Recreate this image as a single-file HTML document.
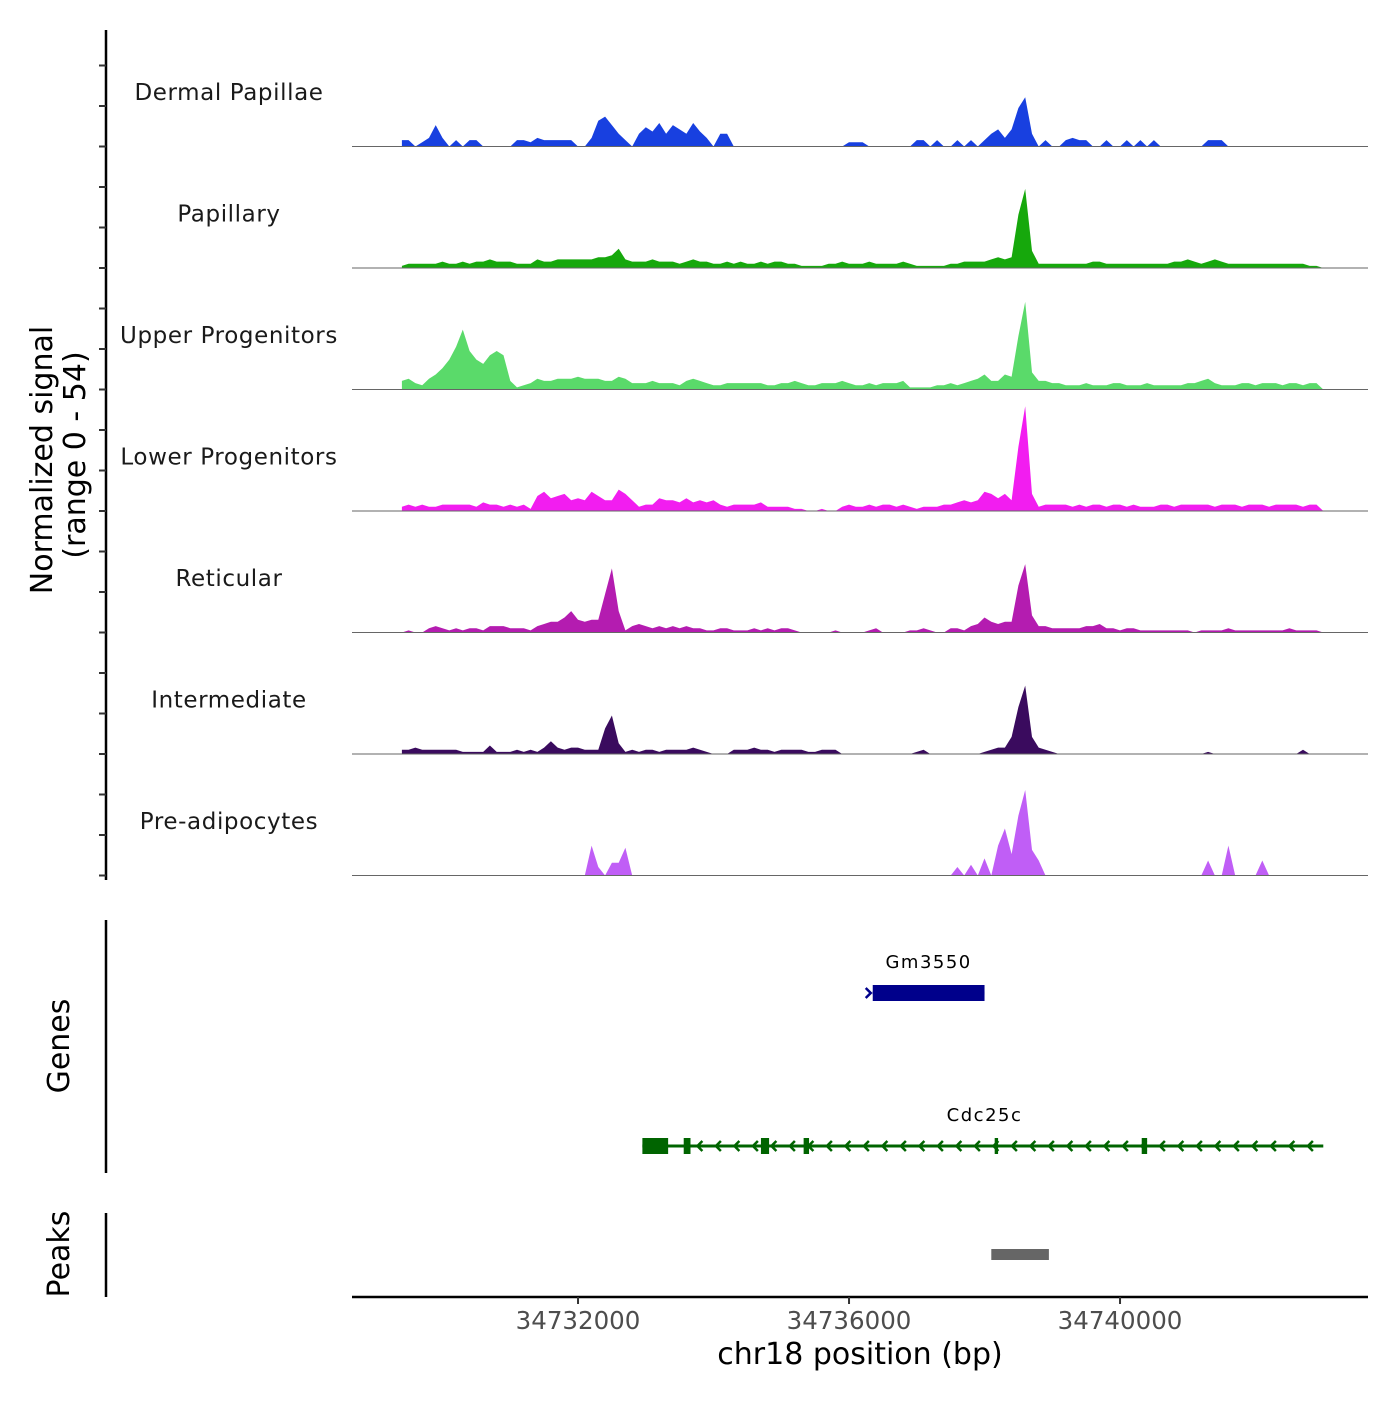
<!DOCTYPE html>
<html><head><meta charset="utf-8"><style>
html,body{margin:0;padding:0;background:#fff;}
svg text{font-family:"DejaVu Sans","Liberation Sans",sans-serif;}
</style></head><body>
<svg id="chart" width="1400" height="1400" xmlns="http://www.w3.org/2000/svg"></svg>
<script>
const regionStart = 34728664, regionEnd = 34743660;
const binStart = 34729400, binSize = 100;
const trackNames = ["Dermal Papillae","Papillary","Upper Progenitors","Lower Progenitors","Reticular","Intermediate","Pre-adipocytes"];
const trackColors = ["#1840e0","#16a80c","#5ada6a","#f21df0","#b41cb0","#3a0b5e","#c05ef6"];
const dermalPapillae = [3,3,0,2,4,10,4,0,3,0, 3,3,0,0,0,0,0,3,3,2, 4,3,3,3,3,3,0,0,4,12, 14,10,6,3,0,6,9,7,11,6, 10,8,6,11,7,4,0,6,6,0, 0,0,0,0,0,0,0,0,0,0, 0,0,0,0,0,0,2,2,2,0, 0,0,0,0,0,0,3,3,0,3, 0,0,3,0,3,0,3,6,8,4, 8,18,23,6,0,3,0,0,3,4, 3,3,0,0,3,0,0,3,0,3, 0,3,0,0,0,0,0,0,0,3, 3,3,0,0,0,0,0,0,0,0, 0,0,0,0,0,0];
const papillary = [1,2,2,2,2,2,3,2,2,3, 2,3,3,4,3,3,3,2,2,2, 4,3,3,4,4,4,4,4,4,5, 5,6,9,4,3,3,3,4,3,3, 3,2,3,4,3,3,2,2,3,2, 3,2,2,3,2,3,3,2,2,1, 1,1,1,2,2,3,2,2,2,3, 2,2,2,2,3,2,1,1,1,1, 1,2,2,3,3,3,3,4,5,4, 5,25,37,8,2,2,2,2,2,2, 2,2,3,3,2,2,2,2,2,2, 2,2,2,2,3,3,4,3,2,3, 4,3,2,2,2,2,2,2,2,2, 2,2,2,2,1,1];
const upperProgenitors = [4,5,3,2,5,7,10,14,20,28, 18,14,12,16,18,16,4,1,2,3, 5,4,4,5,5,5,6,5,5,5, 4,4,6,5,3,3,3,4,3,3, 3,2,4,5,4,3,2,2,3,3, 3,3,3,3,2,2,3,3,4,3, 2,2,3,3,3,4,3,2,2,3, 2,3,3,3,4,1,1,1,1,2, 2,3,2,3,4,5,7,4,4,7, 6,25,41,8,4,4,3,3,2,2, 2,3,2,2,2,3,3,2,2,2, 3,2,2,2,2,2,3,3,4,5, 3,2,2,2,3,3,2,3,3,3, 2,3,3,2,3,3];
const lowerProgenitors = [2,3,2,3,2,2,3,3,3,3, 3,2,4,3,3,2,3,2,3,1, 7,9,6,7,8,5,6,5,9,7, 5,5,10,8,5,2,3,3,6,5, 5,4,6,4,5,4,5,3,2,3, 3,3,3,4,2,2,2,2,1,1, 0,0,1,0,0,2,3,2,2,3, 2,3,3,2,3,2,1,2,2,2, 3,3,4,5,4,5,9,8,6,8, 5,30,49,8,2,3,3,3,3,2, 3,2,3,3,2,3,3,2,3,2, 2,2,3,3,2,3,3,3,3,3, 2,3,3,3,2,3,3,3,2,3, 3,3,3,2,3,3];
const reticular = [0,1,0,0,2,3,2,1,2,1, 2,2,1,3,3,3,2,2,2,1, 3,4,5,5,7,10,6,5,6,6, 18,30,10,1,3,4,3,2,3,2, 3,2,3,2,2,1,1,2,2,1, 1,1,2,1,2,1,2,2,1,0, 0,0,0,0,1,0,0,0,0,1, 2,0,0,0,0,1,1,2,1,0, 0,2,2,1,3,4,7,5,4,5, 5,22,32,8,3,3,2,2,2,2, 2,3,3,4,2,2,1,2,2,1, 1,1,1,1,1,1,1,0,1,1, 1,1,2,1,1,1,1,1,1,1, 1,2,1,1,1,1];
const intermediate = [2,2,3,2,2,2,2,2,2,1, 1,1,1,4,1,1,1,2,1,2, 1,3,6,3,2,3,3,2,2,2, 12,18,5,1,2,1,2,2,1,2, 2,2,2,3,2,1,0,0,0,2, 2,2,3,2,2,1,2,2,2,2, 1,1,2,2,2,0,0,0,0,0, 0,0,0,0,0,0,1,2,0,0, 0,0,0,0,0,0,1,2,3,3, 8,22,32,8,3,2,1,0,0,0, 0,0,0,0,0,0,0,0,0,0, 0,0,0,0,0,0,0,0,0,1, 0,0,0,0,0,0,0,0,0,0, 0,0,0,2,0,0];
const preAdipocytes = [0,0,0,0,0,0,0,0,0,0, 0,0,0,0,0,0,0,0,0,0, 0,0,0,0,0,0,0,0,14,4, 0,6,6,13,0,0,0,0,0,0, 0,0,0,0,0,0,0,0,0,0, 0,0,0,0,0,0,0,0,0,0, 0,0,0,0,0,0,0,0,0,0, 0,0,0,0,0,0,0,0,0,0, 0,0,4,0,5,0,8,0,14,22, 10,28,40,12,7,0,0,0,0,0, 0,0,0,0,0,0,0,0,0,0, 0,0,0,0,0,0,0,0,0,7, 0,0,14,0,0,0,0,7,0,0, 0,0,0,0,0,0];
const trackValues = [dermalPapillae,papillary,upperProgenitors,lowerProgenitors,reticular,intermediate,preAdipocytes];
const xTicks = [34732000,34736000,34740000];
const genes = [{name:"Gm3550",start:34736350,end:34738000,strand:"+",y:993,color:"#00008b",exons:[[34736350,34738000]]},
  {name:"Cdc25c",start:34732950,end:34743000,strand:"-",y:1146,color:"#006400",exons:[[34732950,34733330],[34733560,34733660],[34734700,34734820],[34735330,34735410],[34738150,34738200],[34740320,34740400]]}];
const peaks = [[34738100,34738950]];

const NS="http://www.w3.org/2000/svg";
const svg=document.getElementById('chart');
const X0=352,X1=1368;
function xs(p){return X0+(p-regionStart)/(regionEnd-regionStart)*(X1-X0);}
const trackTop=25, trackH=121.5, yMax=54;
function el(tag,attrs,parent){const e=document.createElementNS(NS,tag);for(const k in attrs)e.setAttribute(k,attrs[k]);(parent||svg).appendChild(e);return e;}

const ax=el('line',{x1:106,y1:30,x2:106,y2:880,stroke:'#000','stroke-width':2.5});


for(let k=0;k<=21;k++){const y=trackTop+k*trackH/3;if(y<60)continue;
  const t=el('line',{x1:99,y1:y,x2:106,y2:y,stroke:'#333','stroke-width':2});
  
  }
const yt=el('text',{transform:'translate(52,460) rotate(-90)','text-anchor':'middle','font-size':30,fill:'#000'});
yt.textContent='Normalized signal';


const yt2=el('text',{transform:'translate(85,455) rotate(-90)','text-anchor':'middle','font-size':30,fill:'#000'});
yt2.textContent='(range 0 - 54)';



trackValues.forEach((vals,ti)=>{
  const base=trackTop+(ti+1)*trackH;
  const sc=trackH/yMax*0.95;
  let d='M'+xs(binStart).toFixed(1)+','+base;
  vals.forEach((v,i)=>{const x=xs(binStart+i*binSize);d+=' L'+x.toFixed(1)+','+(base-v*sc).toFixed(1);});
  d+=' L'+xs(binStart+vals.length*binSize).toFixed(1)+','+base+' Z';
  const p=el('path',{d:d,fill:trackColors[ti],stroke:'none'});
  
  
  const bl=el('line',{x1:X0,y1:base,x2:X1,y2:base,stroke:'#666','stroke-width':1});
  
  
  const lb=el('text',{x:229,y:trackTop+ti*trackH+75,'text-anchor':'middle','font-size':23,fill:'#1a1a1a','letter-spacing':'0.6'});
  lb.textContent=trackNames[ti];
  
  
});

const ga=el('line',{x1:106,y1:920,x2:106,y2:1173,stroke:'#000','stroke-width':2.5});


const gt=el('text',{transform:'translate(69,1046) rotate(-90)','text-anchor':'middle','font-size':30,fill:'#000'});
gt.textContent='Genes';


genes.forEach(g=>{
  const x1=xs(g.start),x2=xs(g.end);
  const grp=el('g',{});
  
  
  el('line',{x1:x1,y1:g.y,x2:x2,y2:g.y,stroke:g.color,'stroke-width':3},grp);
  if(g.strand==='-'){for(let x=x1+55;x<x2;x+=18.5){el('polyline',{points:(x+5)+','+(g.y-5)+' '+x+','+g.y+' '+(x+5)+','+(g.y+5),fill:'none',stroke:g.color,'stroke-width':2.5},grp);}}
  else{el('polyline',{points:(x1-7)+','+(g.y-5)+' '+(x1-2)+','+g.y+' '+(x1-7)+','+(g.y+5),fill:'none',stroke:g.color,'stroke-width':2.5},grp);}
  g.exons.forEach(e=>{const a=xs(e[0]),b=xs(e[1]);el('rect',{x:a,y:g.y-8,width:Math.max(b-a,3),height:16,fill:g.color},grp);});
  const t=el('text',{x:(x1+x2)/2+(g.strand==='-'?(xs(34738000)-(x1+x2)/2):0),y:g.y-25,'text-anchor':'middle','font-size':18,fill:'#000','letter-spacing':'1.5'},grp);
  t.textContent=g.name;
});

const pa=el('line',{x1:106,y1:1213,x2:106,y2:1297,stroke:'#000','stroke-width':2.5});


const pt=el('text',{transform:'translate(69,1254) rotate(-90)','text-anchor':'middle','font-size':30,fill:'#000'});
pt.textContent='Peaks';


peaks.forEach(pk=>{const r=el('rect',{x:xs(pk[0]),y:1249,width:xs(pk[1])-xs(pk[0]),height:11,fill:'#666'});
  
  });

const xa=el('line',{x1:X0,y1:1297,x2:X1,y2:1297,stroke:'#000','stroke-width':2.5});


xTicks.forEach(v=>{const x=xs(v);
  const t=el('line',{x1:x,y1:1297,x2:x,y2:1304,stroke:'#333','stroke-width':2});
  
  
  const l=el('text',{x:x,y:1329,'text-anchor':'middle','font-size':24.5,fill:'#4d4d4d'});
  l.textContent=String(v);
  
  });
const xt=el('text',{x:860,y:1364,'text-anchor':'middle','font-size':30,fill:'#000'});
xt.textContent='chr18 position (bp)';


</script>
</body></html>
